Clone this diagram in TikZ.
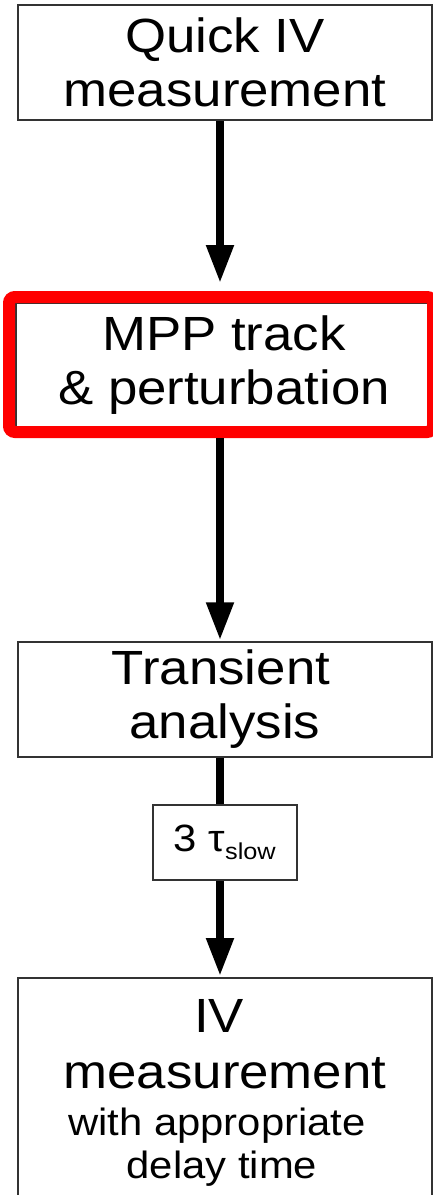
\documentclass[tikz,border=0pt]{standalone}
\usepackage{fontspec}
\setmainfont{Liberation Sans}[FakeStretch=1.1]
\usetikzlibrary{arrows.meta}
\definecolor{redbox}{HTML}{FF0000}
\definecolor{boxline}{HTML}{333333}
\begin{document}
\begin{tikzpicture}[x=1pt,y=-1pt,
  stepbox/.style={draw=boxline, line width=1.5pt, inner sep=0pt, align=center},
  bigtxt/.style={font=\fontsize{48}{54}\selectfont},
  smalltxt/.style={font=\fontsize{38}{43}\selectfont},
  arr/.style={line width=8pt, -{Triangle[length=38pt,width=26pt]}},
  plain/.style={line width=8pt}]
\useasboundingbox (0,0) rectangle (433,1195);
\node[stepbox, bigtxt, minimum width=414pt, minimum height=115pt] (q) at (225,62.5) {Quick IV\\measurement};
\node[stepbox, bigtxt, minimum width=416pt, minimum height=124pt] (m) at (224,365) {MPP track\\\&~perturbation};
\node[draw=redbox, line width=12pt, rounded corners=6pt, minimum width=424pt, minimum height=135pt, inner sep=0pt] (r) at (221,364.5) {};
\node[stepbox, bigtxt, minimum width=414pt, minimum height=115pt] (t) at (225,699.5) {\hspace*{-8pt}Transient\\analysis};
\node[stepbox, minimum width=144pt, minimum height=75pt, font=\fontsize{38}{42}\selectfont] (s) at (225,842.5) {3 τ\textsubscript{\fontsize{23}{25}\selectfont slow}};
\node[stepbox, minimum width=414pt, minimum height=230pt, anchor=north] (iv) at (225,977) {};
\node[bigtxt, anchor=base] (l1) at (219,1032) {IV};
\node[bigtxt, anchor=base] (l2) at (225,1088) {measurement};
\node[smalltxt, anchor=base] (l3) at (217,1135) {with appropriate};
\node[smalltxt, anchor=base] (l4) at (222,1178) {delay time};
\draw[arr] ([xshift=-5pt]q.south) -- ([xshift=-1pt,yshift=8pt]r.north);
\draw[arr] ([xshift=-1pt]r.south) -- ([xshift=-5pt,yshift=1pt]t.north);
\draw[plain] ([xshift=-5pt]t.south) -- ([xshift=-5pt]s.north);
\draw[arr] ([xshift=-5pt]s.south) -- ([xshift=-5pt,yshift=1pt]iv.north);
\end{tikzpicture}
\end{document}
